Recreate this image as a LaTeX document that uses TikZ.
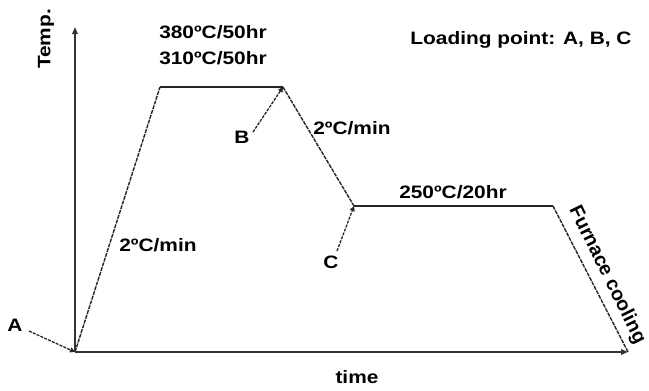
\documentclass[tikz,border=0pt]{standalone}
\usepackage{fontspec}
\newfontfamily\labfont[FakeStretch=1.16]{Liberation Sans}
\newfontfamily\slantfont{Liberation Sans}
\usetikzlibrary{arrows.meta}
\begin{document}
\begin{tikzpicture}[x=1pt,y=-1pt,
  lab/.style={font=\labfont\bfseries\fontsize{18}{20}\selectfont, inner sep=0pt, text=black},
  axis/.style={line width=2pt, draw=black!80, -{Triangle[length=7pt,width=5.5pt]}},
  flat/.style={line width=1.6pt, draw=black!85},
  ramp/.style={line width=1.4pt, draw=black!85, dash pattern=on 4pt off 1pt},
  pointer/.style={line width=1.3pt, draw=black!85, dash pattern=on 3pt off 1.2pt, -{Triangle[length=5pt,width=5pt]}}]
\useasboundingbox (0,0) rectangle (649,391);
% profile corners
\coordinate (O) at (75,352);
\coordinate (ytop) at (75,27);
\coordinate (xend) at (628,352);
\coordinate (p1) at (160,87);
\coordinate (p2) at (283,87);
\coordinate (p3) at (354,206);
\coordinate (p4) at (553,206);
% axes
\draw[axis] (O) -- (ytop);
\draw[axis] (O) -- (xend);
% heat treatment schedule
\draw[ramp] (O) -- (p1);
\draw[flat] (p1) -- (p2);
\draw[ramp] (p2) -- (p3);
\draw[flat] (p3) -- (p4);
\draw[ramp] (p4) -- (xend);
% loading point markers
\node[lab] (A) at (15,325) {A};
\node[lab] (B) at (242,137) {B};
\node[lab] (C) at (331,262) {C};
\coordinate (a0) at (29,331);
\coordinate (b0) at (253,132);
\coordinate (c0) at (337,251);
\draw[pointer] (a0) -- (O);
\draw[pointer] (b0) -- (p2);
\draw[pointer] (c0) -- (p3);
% labels
\node[lab, rotate=90] (temp) at (46,39) {Temp.};
\node[lab] (time) at (357,377) {time};
\node[lab, align=center] (hold1) at (213,45) {380ºC/50hr\\[6pt]310ºC/50hr};
\node[lab] (r1) at (158,245) {2ºC/min};
\node[lab] (r2) at (352,128) {2ºC/min};
\node[lab] (hold2) at (453,192) {250ºC/20hr};
\node[lab] (load) at (521,40) {Loading point: A, B, C};
\node[lab, font=\slantfont\bfseries\fontsize{19.5}{21}\selectfont, rotate=-63.7] (fc) at (607,275) {Furnace cooling};
\end{tikzpicture}
\end{document}
